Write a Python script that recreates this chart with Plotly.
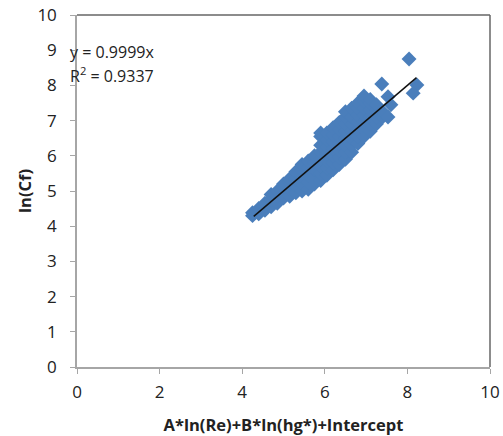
import plotly.graph_objects as go

# Scatter points (estimated from reference)
pts_x = [
    4.25, 4.25,
    4.4, 4.4,
    4.55, 4.55,
    4.7, 4.7, 4.7,
    4.85, 4.85, 4.85,
    5.0, 5.0, 5.0,
    5.15, 5.15, 5.15, 5.15,
    5.3, 5.3, 5.3, 5.3,
    5.45, 5.45, 5.45, 5.45, 5.45,
    5.6, 5.6, 5.6, 5.6, 5.6,
    5.75, 5.75, 5.75, 5.75, 5.75,
    5.9, 5.9, 5.9, 5.9, 5.9, 5.9, 5.9, 5.9,
    6.05, 6.05, 6.05, 6.05, 6.05, 6.05, 6.05,
    6.2, 6.2, 6.2, 6.2, 6.2, 6.2, 6.2,
    6.35, 6.35, 6.35, 6.35, 6.35, 6.35, 6.35,
    6.5, 6.5, 6.5, 6.5, 6.5, 6.5, 6.5, 6.5,
    6.65, 6.65, 6.65, 6.65, 6.65, 6.65, 6.65,
    6.8, 6.8, 6.8, 6.8, 6.8, 6.8, 6.8,
    6.95, 6.95, 6.95, 6.95, 6.95, 6.95, 6.95,
    7.1, 7.1, 7.1, 7.1, 7.1, 7.1,
    7.25, 7.25, 7.25, 7.25,
    7.4, 7.4,
    7.38, 8.04, 8.23, 8.14, 7.53, 7.53, 7.6,
]
pts_y = [
    4.3, 4.38,
    4.35, 4.5,
    4.45, 4.65,
    4.55, 4.75, 4.9,
    4.65, 4.85, 5.0,
    4.8, 5.0, 5.2,
    4.85, 5.05, 5.25, 5.35,
    4.95, 5.15, 5.35, 5.55,
    5.0, 5.2, 5.4, 5.6, 5.75,
    5.05, 5.25, 5.45, 5.65, 5.85,
    5.2, 5.4, 5.6, 5.8, 6.0,
    5.3, 5.5, 5.7, 5.9, 6.1, 6.3, 6.55, 6.65,
    5.45, 5.65, 5.85, 6.05, 6.25, 6.45, 6.65,
    5.6, 5.8, 6.0, 6.2, 6.4, 6.6, 6.8,
    5.75, 5.95, 6.15, 6.35, 6.55, 6.75, 6.95,
    5.9, 6.1, 6.3, 6.5, 6.7, 6.9, 7.1, 7.25,
    6.1, 6.3, 6.5, 6.7, 6.9, 7.1, 7.35,
    6.35, 6.55, 6.75, 6.95, 7.15, 7.35, 7.5,
    6.55, 6.75, 6.95, 7.15, 7.35, 7.55, 7.7,
    6.7, 6.9, 7.1, 7.3, 7.5, 7.6,
    6.9, 7.1, 7.3, 7.45,
    7.1, 7.25,
    8.04, 8.75, 8.01, 7.78, 7.68, 7.1, 7.45,
]

# Linear trendline through origin
slope = 0.9999
trend_x = [4.28, 8.22]
trend_y = [slope * v for v in trend_x]

x_ticks = [0, 2, 4, 6, 8, 10]
y_ticks = [0, 1, 2, 3, 4, 5, 6, 7, 8, 9, 10]

font = "Open Sans, Liberation Sans, sans-serif"

fig = go.Figure()
fig.add_trace(go.Scatter(
    x=pts_x, y=pts_y, mode="markers",
    marker=dict(symbol="diamond", size=11.5, color="#4a7ebb", line=dict(width=0)),
    showlegend=False, hoverinfo="skip",
))
fig.add_trace(go.Scatter(
    x=trend_x, y=trend_y, mode="lines",
    line=dict(color="#111111", width=1.5),
    showlegend=False, hoverinfo="skip",
))

fig.update_layout(
    width=503, height=436,
    margin=dict(l=77, r=13, t=15, b=69),
    paper_bgcolor="white", plot_bgcolor="white",
    font=dict(family=font, size=16, color="#222222"),
    xaxis=dict(
        range=[0, 10], tickvals=x_ticks, showgrid=False, zeroline=False,
        showline=True, linecolor="#a6a6a6", linewidth=1.5,
        ticks="outside", ticklen=5, tickcolor="#a6a6a6",
        tickfont=dict(size=17), ticklabelstandoff=4, automargin=False,
        title=dict(text="<b>A*ln(Re)+B*ln(hg*)+Intercept</b>", font=dict(size=16.5), standoff=17),
    ),
    yaxis=dict(
        range=[0, 10], tickvals=y_ticks, showgrid=False, zeroline=False,
        showline=True, linecolor="#a6a6a6", linewidth=1.5,
        ticks="outside", ticklen=5, tickcolor="#a6a6a6",
        tickfont=dict(size=17), ticklabelstandoff=10, automargin=False,
        title=dict(text="<b>ln(Cf)</b>", font=dict(size=16.5), standoff=2),
    ),
    shapes=[
        dict(type="line", xref="paper", yref="paper", x0=0, x1=1, y0=1, y1=1,
             line=dict(color="#666666", width=1.5)),
        dict(type="line", xref="paper", yref="paper", x0=1, x1=1, y0=0, y1=1,
             line=dict(color="#666666", width=1.5)),
    ],
    annotations=[
        dict(xref="paper", yref="paper", x=-0.022, y=0.895, xanchor="left", yanchor="middle",
             text="y = 0.9999x", showarrow=False, font=dict(size=16, color="#222222")),
        dict(xref="paper", yref="paper", x=-0.022, y=0.83, xanchor="left", yanchor="middle",
             text="R<sup>2</sup> = 0.9337", showarrow=False, font=dict(size=16, color="#222222")),
    ],
)

fig.write_html("out.html")
